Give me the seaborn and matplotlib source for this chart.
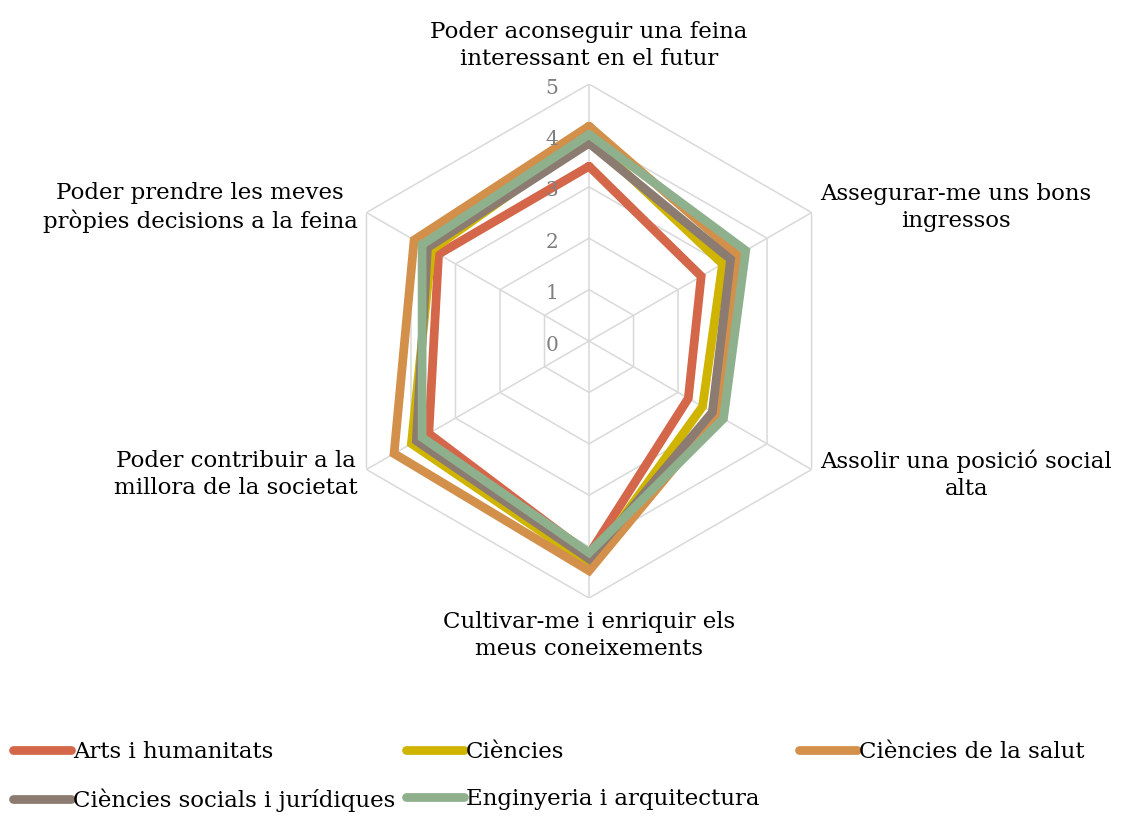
import numpy as np
import pandas as pd
import seaborn as sns
import matplotlib.pyplot as plt
import matplotlib.transforms as mtransforms
from matplotlib.lines import Line2D

# categories, clockwise from the top
categories = [
    "Poder aconseguir una feina\ninteressant en el futur",
    "Assegurar-me uns bons\ningressos",
    "Assolir una posició social\nalta",
    "Cultivar-me i enriquir els\nmeus coneixements",
    "Poder contribuir a la\nmillora de la societat",
    "Poder prendre les meves\npròpies decisions a la feina",
]

groups = [
    "Arts i humanitats",
    "Ciències",
    "Ciències de la salut",
    "Ciències socials i jurídiques",
    "Enginyeria i arquitectura",
]

arts = [3.40, 2.52, 2.23, 4.15, 3.60, 3.38]
ciencies = [3.95, 3.00, 2.55, 4.34, 3.99, 3.54]
salut = [4.18, 3.34, 2.89, 4.47, 4.38, 3.93]
socials = [3.85, 3.18, 2.77, 4.24, 3.88, 3.63]
enginyeria = [4.02, 3.52, 3.02, 4.12, 3.75, 3.75]

colors = ["#D4664A", "#CFB400", "#D3904A", "#8C7B70", "#8FB08C"]
rticks = [0, 1, 2, 3, 4, 5]

sns.set_theme(style="white")
plt.rcParams['font.family'] = ['DejaVu Serif']

n = len(categories)
angles = np.linspace(0, 2 * np.pi, n, endpoint=False)
angles_closed = np.append(angles, 2 * np.pi)

rows = []
for g, vals in zip(groups, [arts, ciencies, salut, socials, enginyeria]):
    for i, a in enumerate(angles_closed):
        rows.append({"grup": g, "theta": a, "valor": vals[i % n]})
df = pd.DataFrame(rows)

fig = plt.figure(figsize=(11.21, 8.19), dpi=100)
ax = fig.add_axes([0.2962, 0.2698, 0.4585, 0.6276], projection="polar")
ax.set_theta_zero_location("N")
ax.set_theta_direction(-1)
ax.set_ylim(0, 5)
ax.grid(False)
ax.spines["polar"].set_visible(False)
ax.set_xticks([])
ax.set_yticks([])

# hexagonal grid
for r in rticks[1:]:
    ax.plot(angles_closed, [r] * len(angles_closed), color="#D9D9D9", lw=1.1, zorder=0)
for a in angles:
    ax.plot([a, a], [0, 5], color="#D9D9D9", lw=1.1, zorder=0)

sns.lineplot(data=df, x="theta", y="valor", hue="grup", hue_order=groups,
             palette=colors, sort=False, estimator=None, units="grup",
             linewidth=6.3, legend=False, ax=ax, solid_joinstyle="miter")
ax.set_xlabel("")
ax.set_ylabel("")

# radial tick labels
off = mtransforms.offset_copy(ax.transData, fig=fig, x=-31, y=-4, units="dots")
for r in rticks:
    ax.text(0, r, str(r), transform=off, ha="right", va="center",
            fontsize=14.5, color="#7F7F7F")

# category labels
placement = [
    (5.27, "center", "bottom"),
    (5.2, "left", "center"),
    (5.2, "left", "center"),
    (5.25, "center", "top"),
    (5.2, "right", "center"),
    (5.2, "right", "center"),
]
for a, lab, (r, ha, va) in zip(angles, categories, placement):
    ax.text(a, r, lab, ha=ha, va=va, multialignment="center", linespacing=1.3,
            fontsize=16.5, color="black", clip_on=False)

# legend, three columns laid out like the original
handles = [Line2D([0], [0], color=c, lw=6.3, solid_capstyle="round") for c in colors]
col_x = [0.012, 0.3625, 0.713]
for k, x in enumerate(col_x):
    idx = list(range(k, len(groups), 3))
    leg = fig.legend([handles[i] for i in idx], [groups[i] for i in idx],
                     loc="upper left", bbox_to_anchor=(x, 0.095), frameon=False,
                     fontsize=16.5, handlelength=2.5, handletextpad=0.1,
                     labelspacing=1.1, borderaxespad=0, borderpad=0)
    for t in leg.get_texts():
        t.set_color("black")

fig.savefig("out.png", dpi=100)
